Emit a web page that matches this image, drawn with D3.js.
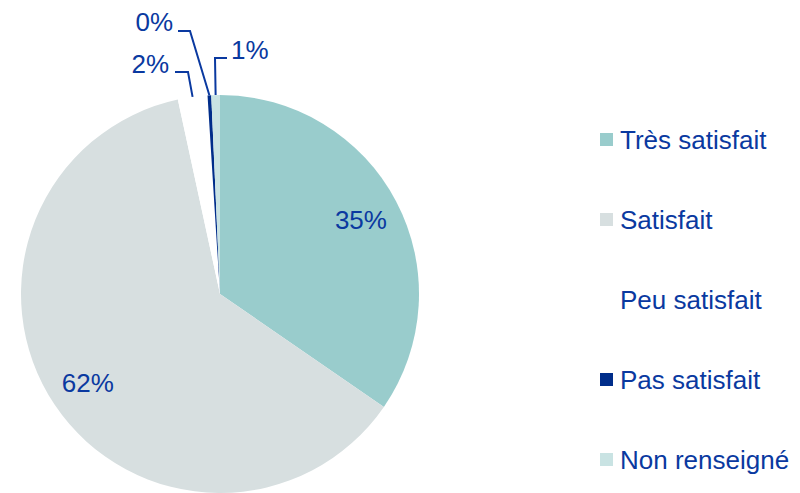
<!DOCTYPE html>
<html>
<head>
<meta charset="utf-8">
<script src="https://cdn.jsdelivr.net/npm/d3@7"></script>
<style>
  html, body { margin: 0; padding: 0; background: #fff; }
  text { font-family: "Liberation Sans", Arial, sans-serif; }
</style>
</head>
<body>
<div id="chart"></div>
<script>
const categories = ['Très satisfait', 'Satisfait', 'Peu satisfait', 'Pas satisfait', 'Non renseigné']
const values = [34.6, 62.0, 2.4, 0.3, 0.7]
const valueLabels = ['35%', '62%', '2%', '0%', '1%']
const colors = ['#99cccc', '#d7dfe0', '#ffffff', '#002d8a', '#c9e3e3']

const width = 800
const height = 493
const textColor = '#0a39a0'
const fontSize = 26

const cx = 220
const cy = 294
const radius = 199

const svg = d3.select('#chart')
  .append('svg')
  .attr('width', width)
  .attr('height', height)

const data = categories.map((c, i) => ({ name: c, value: values[i], label: valueLabels[i], color: colors[i] }))

const pie = d3.pie().sort(null).value((d) => d.value)
const arcs = pie(data)
const arc = d3.arc().innerRadius(0).outerRadius(radius)
const labelArc = d3.arc().innerRadius(radius * 0.8).outerRadius(radius * 0.8)

const g = svg.append('g').attr('transform', `translate(${cx}, ${cy})`)

g.selectAll('path')
  .data(arcs)
  .enter()
  .append('path')
  .attr('d', arc)
  .attr('fill', (d) => d.data.color)

// inside labels for the big slices
g.selectAll('text.inside')
  .data(arcs.filter((d) => d.data.value > 10))
  .enter()
  .append('text')
  .attr('class', 'inside')
  .attr('transform', (d) => `translate(${labelArc.centroid(d)})`)
  .attr('text-anchor', 'middle')
  .attr('dy', '0.35em')
  .attr('fill', textColor)
  .attr('font-size', fontSize)
  .text((d) => d.data.label)

// leader lines for the small slices: elbow and end relative to centre
const callouts = {
  'Peu satisfait': { elbow: [-32, -222], end: [-45, -222], anchor: 'end', tx: -51, ty: -221 },
  'Pas satisfait': { elbow: [-30, -263], end: [-42, -263], anchor: 'end', tx: -47, ty: -263 },
  'Non renseigné': { elbow: [-5, -236], end: [7, -236], anchor: 'start', tx: 11, ty: -235 }
}

const edge = (d) => {
  const a = (d.startAngle + d.endAngle) / 2
  return [radius * Math.sin(a), -radius * Math.cos(a)]
}

arcs.filter((d) => callouts[d.data.name]).forEach((d) => {
  const c = callouts[d.data.name]
  g.append('path')
    .attr('d', d3.line()([edge(d), c.elbow, c.end]))
    .attr('fill', 'none')
    .attr('stroke', textColor)
    .attr('stroke-width', 2)
  g.append('text')
    .attr('x', c.tx)
    .attr('y', c.ty)
    .attr('text-anchor', c.anchor)
    .attr('fill', textColor)
    .attr('font-size', fontSize)
    .text(d.data.label)
})

// legend
const legend = svg.append('g')
  .selectAll('g')
  .data(data)
  .enter()
  .append('g')
  .attr('transform', (d, i) => `translate(600, ${140 + i * 80})`)

legend.append('rect')
  .attr('x', 0)
  .attr('y', -7)
  .attr('width', 13)
  .attr('height', 13)
  .attr('fill', (d) => d.color)

legend.append('text')
  .attr('x', 20)
  .attr('y', 9)
  .attr('fill', textColor)
  .attr('font-size', fontSize)
  .text((d) => d.name)
</script>
</body>
</html>
